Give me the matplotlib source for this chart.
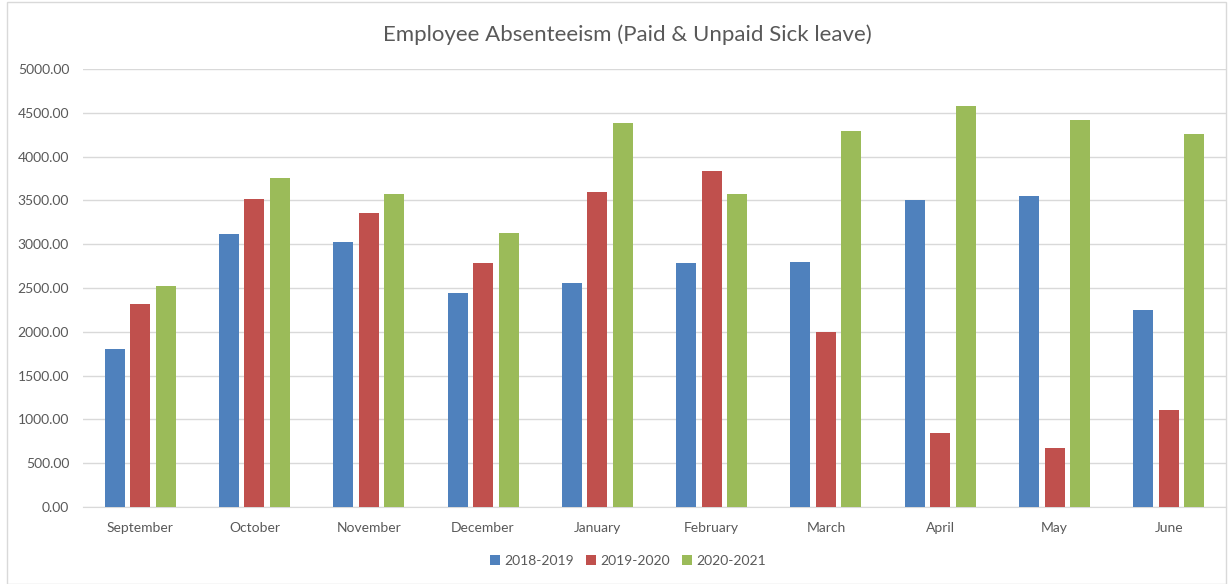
import matplotlib
matplotlib.use("Agg")
import matplotlib.pyplot as plt
import numpy as np
from matplotlib.patches import Rectangle

months = ["September", "October", "November", "December", "January",
          "February", "March", "April", "May", "June"]
series_names = ["2018-2019", "2019-2020", "2020-2021"]
s2018 = [1803, 3117, 3022, 2447, 2553, 2786, 2793, 3506, 3552, 2252]
s2019 = [2313, 3521, 3357, 2790, 3594, 3830, 2001, 846, 678, 1113]
s2020 = [2523, 3758, 3575, 3125, 4383, 3575, 4295, 4581, 4417, 4253]
colors = ["#4F81BD", "#C0504D", "#9BBB59"]
yticks = [0, 500, 1000, 1500, 2000, 2500, 3000, 3500, 4000, 4500, 5000]

plt.rcParams['font.family'] = ['Lato', 'DejaVu Sans']
W, H = 1228, 584
fig = plt.figure(figsize=(W / 100, H / 100), dpi=100)
ax = fig.add_axes([83 / W, 1 - 507 / H, (1226 - 83) / W, (507 - 69) / H])

x = np.arange(len(months))
bw = 0.175
step = 0.223
for i, (vals, name, c) in enumerate(zip([s2018, s2019, s2020], series_names, colors)):
    ax.bar(x + (i - 1) * step, vals, width=bw, color=c, label=name, zorder=3)

ax.set_xlim(-0.5, len(months) - 0.5)
ax.set_ylim(0, 5000)
ax.set_yticks(yticks)
ax.set_yticklabels([f"{v:.2f}" for v in yticks])
ax.set_xticks(x)
ax.set_xticklabels(months)
ax.tick_params(axis='both', length=0, labelsize=10, labelcolor="#595959")
ax.tick_params(axis='y', pad=10)
ax.tick_params(axis='x', pad=11)
ax.grid(axis='y', color="#D9D9D9", linewidth=1, zorder=0)
for s in ["top", "right", "left"]:
    ax.spines[s].set_visible(False)
ax.spines["bottom"].set_color("#D9D9D9")

fig.text(627 / W, 1 - 35 / H, "Employee Absenteeism (Paid & Unpaid Sick leave)",
         ha="center", va="center", fontsize=16, color="#595959")

leg = fig.legend(loc="center", bbox_to_anchor=(628 / W, 1 - 561 / H), ncol=3,
                 frameon=False, fontsize=10, handlelength=0.7, handleheight=0.7,
                 handletextpad=0.3, columnspacing=0.9)
for t in leg.get_texts():
    t.set_color("#595959")

fig.patches.append(Rectangle((7 / W, 0), (1226 - 7) / W, 1 - 2 / H,
                             transform=fig.transFigure, fill=False,
                             edgecolor="#D9D9D9", linewidth=1))

fig.savefig("out.png", dpi=100)
